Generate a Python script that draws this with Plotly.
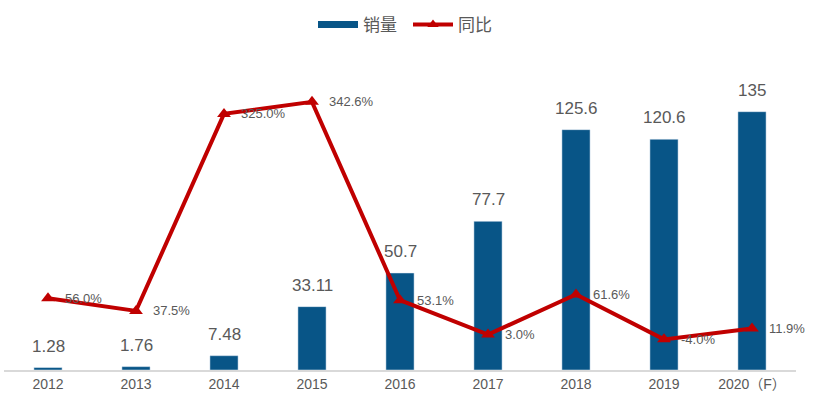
import plotly.graph_objects as go

categories = ["2012", "2013", "2014", "2015", "2016", "2017", "2018", "2019", "2020（F）"]
sales = [1.28, 1.76, 7.48, 33.11, 50.7, 77.7, 125.6, 120.6, 135]
sales_labels = ["1.28", "1.76", "7.48", "33.11", "50.7", "77.7", "125.6", "120.6", "135"]
yoy = [56.0, 37.5, 325.0, 342.6, 53.1, 3.0, 61.6, -4.0, 11.9]
yoy_labels = ["56.0%", "37.5%", "325.0%", "342.6%", "53.1%", "3.0%", "61.6%", "-4.0%", "11.9%"]

BLUE = "#085587"
RED = "#C00000"
GRAY = "#595959"
FONT = "Liberation Sans, Arial, Noto Sans CJK SC, sans-serif"

fig = go.Figure()
fig.add_trace(go.Bar(x=categories, y=sales, marker_color=BLUE, width=0.32,
                     showlegend=False, yaxis="y"))
fig.add_trace(go.Scatter(x=categories, y=yoy, mode="lines+markers", yaxis="y2",
                         line=dict(color=RED, width=4),
                         marker=dict(symbol="triangle-up", size=12, color=RED),
                         showlegend=False))
# legend entries
fig.add_trace(go.Scatter(x=categories[:1], y=[None], mode="lines", name="销量",
                         line=dict(color=BLUE, width=7)))
fig.add_trace(go.Scatter(x=categories[:1], y=[None], mode="lines+markers", name="同比",
                         yaxis="y2",
                         line=dict(color=RED, width=4),
                         marker=dict(symbol="triangle-up", size=10, color=RED)))

annotations = []
for i, (v, t) in enumerate(zip(sales, sales_labels)):
    annotations.append(dict(x=i, y=v, xref="x", yref="y", text=t, showarrow=False,
                            yanchor="bottom", yshift=10,
                            font=dict(size=17, color=GRAY, family=FONT)))
for i, (v, t) in enumerate(zip(yoy, yoy_labels)):
    annotations.append(dict(x=i, y=v, xref="x", yref="y2", text=t, showarrow=False,
                            xanchor="left", xshift=15,
                            font=dict(size=13, color=GRAY, family=FONT)))

fig.update_layout(
    width=816, height=415,
    margin=dict(l=4, r=20, t=40, b=45),
    paper_bgcolor="white", plot_bgcolor="white",
    font=dict(family=FONT, color=GRAY),
    xaxis=dict(type="category", categoryorder="array", categoryarray=categories,
               range=[-0.5, len(categories) - 0.5],
               showline=True, linecolor="#D9D9D9", linewidth=2,
               showgrid=False, ticks="", tickfont=dict(size=14, color=GRAY)),
    yaxis=dict(range=[0, 168.8], visible=False, showgrid=False),
    yaxis2=dict(range=[-48.7, 422.6], visible=False, overlaying="y", showgrid=False),
    legend=dict(orientation="h", x=0.5, xanchor="center", xref="container",
                y=1 - 25 / 415, yanchor="middle", yref="container",
                itemwidth=40, entrywidth=40, entrywidthmode="pixels",
                font=dict(size=17, color=GRAY, family=FONT)),
    annotations=annotations,
)
fig.write_html("out.html")
